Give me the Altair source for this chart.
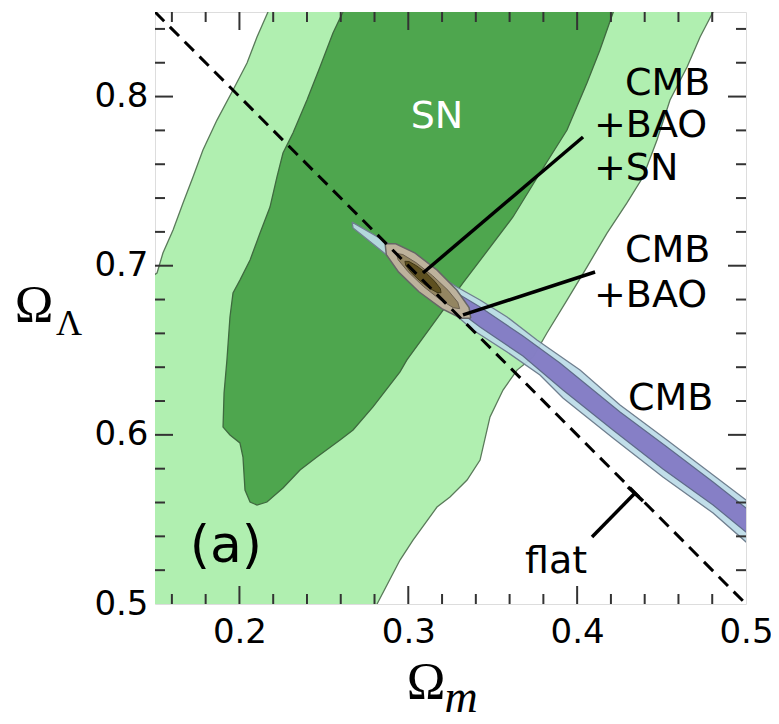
import altair as alt
import pandas as pd

# ---------------- data (Omega_m, Omega_Lambda) ----------------
# SN, outer (95%) contour - light green
sn95_om = [0.2257, 0.2169, 0.2104, 0.2045, 0.1962, 0.1867, 0.1784, 0.1725, 0.1666, 0.1607, 0.1547, 0.1512,
           0.1400, 0.1400, 0.2710, 0.2815, 0.2951, 0.3028, 0.3170, 0.3247, 0.3348, 0.3425, 0.3484, 0.3561,
           0.3644, 0.3739, 0.3821, 0.3940, 0.4058, 0.4177, 0.4295, 0.4390, 0.4473, 0.4550, 0.4651, 0.4728,
           0.4805, 0.4909]
sn95_ol = [0.8700, 0.8500, 0.8352, 0.8198, 0.8039, 0.7861, 0.7684, 0.7524, 0.7371, 0.7211, 0.7075, 0.6957,
           0.6880, 0.4800, 0.4800, 0.5000, 0.5260, 0.5378, 0.5573, 0.5633, 0.5733, 0.5851, 0.6106, 0.6265,
           0.6383, 0.6460, 0.6602, 0.6797, 0.6992, 0.7193, 0.7371, 0.7524, 0.7743, 0.7980, 0.8175, 0.8352,
           0.8500, 0.8700]

# SN, inner (68%) contour - dark green
sn68_om = [0.2640, 0.2613, 0.2554, 0.2477, 0.2400, 0.2317, 0.2258, 0.2222, 0.2181, 0.2122, 0.2063, 0.2003,
           0.1962, 0.1944, 0.1926, 0.1909, 0.1903, 0.1944, 0.2003, 0.2021, 0.2033, 0.2063, 0.2104, 0.2163,
           0.2258, 0.2359, 0.2459, 0.2596, 0.2673, 0.2791, 0.2951, 0.2992, 0.3324, 0.3620, 0.3780, 0.3940,
           0.4058, 0.4135, 0.4212, 0.4290]
sn68_ol = [0.8700, 0.8500, 0.8376, 0.8175, 0.7980, 0.7785, 0.7666, 0.7524, 0.7347, 0.7193, 0.7034, 0.6915,
           0.6839, 0.6697, 0.6443, 0.6247, 0.6046, 0.5999, 0.5952, 0.5869, 0.5674, 0.5603, 0.5585, 0.5603,
           0.5686, 0.5792, 0.5869, 0.5970, 0.6029, 0.6165, 0.6372, 0.6443, 0.6898, 0.7288, 0.7548, 0.7802,
           0.8080, 0.8275, 0.8494, 0.8700]

# CMB outer contour - light blue
cmb95_om = [0.2667, 0.2850, 0.3069, 0.3288, 0.3425, 0.3585, 0.3762, 0.4017, 0.4254, 0.4532, 0.4805, 0.5000,
            0.5142, 0.5142, 0.5000, 0.4805, 0.4508, 0.4212, 0.3916, 0.3780, 0.3585, 0.3383, 0.3247, 0.3069,
            0.2850, 0.2673, 0.2667]
cmb95_ol = [0.7258, 0.7152, 0.7016, 0.6874, 0.6797, 0.6697, 0.6561, 0.6383, 0.6177, 0.5970, 0.5763, 0.5615,
            0.5514, 0.5248, 0.5367, 0.5538, 0.5751, 0.5981, 0.6218, 0.6354, 0.6490, 0.6620, 0.6738, 0.6898,
            0.7081, 0.7223, 0.7258]

# CMB inner contour - purple
cmb68_om = [0.3188, 0.3425, 0.3679, 0.3898, 0.4254, 0.4532, 0.4805, 0.5000, 0.5142,
            0.5142, 0.5000, 0.4805, 0.4508, 0.4212, 0.3916, 0.3679, 0.3425, 0.3188, 0.3188]
cmb68_ol = [0.6898, 0.6756, 0.6584, 0.6425, 0.6135, 0.5928, 0.5721, 0.5568, 0.5467,
            0.5307, 0.5426, 0.5585, 0.5798, 0.6029, 0.6265, 0.6466, 0.6638, 0.6815, 0.6898]

# CMB+BAO outer contour
bao95_om = [0.3370, 0.3312, 0.3198, 0.3063, 0.2943, 0.2870, 0.2863, 0.2926, 0.3041, 0.3171, 0.3287, 0.3360, 0.3370]
bao95_ol = [0.6690, 0.6690, 0.6746, 0.6846, 0.6962, 0.7065, 0.7130, 0.7130, 0.7074, 0.6974, 0.6856, 0.6752, 0.6690]

# CMB+BAO inner contour
bao68_om = [0.3304, 0.3266, 0.3187, 0.3089, 0.2999, 0.2940, 0.2929, 0.2968, 0.3046, 0.3144, 0.3235, 0.3293, 0.3304]
bao68_ol = [0.6746, 0.6752, 0.6801, 0.6878, 0.6964, 0.7035, 0.7073, 0.7066, 0.7018, 0.6941, 0.6855, 0.6784, 0.6746]

# CMB+BAO+SN contour
all_om = [0.3194, 0.3170, 0.3124, 0.3068, 0.3017, 0.2985, 0.2980, 0.3004, 0.3050, 0.3107, 0.3158, 0.3190, 0.3194]
all_ol = [0.6840, 0.6842, 0.6868, 0.6911, 0.6960, 0.7002, 0.7026, 0.7025, 0.6999, 0.6956, 0.6906, 0.6864, 0.6840]

# flat universe line
flat_om = [0.15, 0.50]
flat_ol = [0.85, 0.50]

# leader lines (start, end)
lead_om1 = [0.4035, 0.4106, 0.4088, 0.4301]
lead_ol1 = [0.7761, 0.6963, 0.5396, 0.5692]
lead_om2 = [0.3087, 0.3324, 0.4343, 0.4390]
lead_ol2 = [0.6957, 0.6709, 0.5656, 0.5609]

# annotation texts
lab_text = ["CMB", "+BAO", "+SN", "CMB", "+BAO", "CMB"]
lab_om = [0.4283, 0.4100, 0.4100, 0.4283, 0.4100, 0.4301]
lab_ol = [0.8009, 0.7761, 0.7507, 0.7022, 0.6756, 0.6147]

sn_text = ["SN"]
sn_om = [0.3170]
sn_ol = [0.7814]

flat_text = ["flat"]
flat_lab_om = [0.3691]
flat_lab_ol = [0.5183]

panel_text = ["(a)"]
panel_om = [0.1920]
panel_ol = [0.5248]

# ticks
x_major = [0.2, 0.3, 0.4]
x_minor = [0.16, 0.18, 0.22, 0.24, 0.26, 0.28, 0.32, 0.34, 0.36, 0.38, 0.42, 0.44, 0.46, 0.48]
y_major = [0.6, 0.7, 0.8]
y_minor = [0.52, 0.54, 0.56, 0.58, 0.62, 0.64, 0.66, 0.68, 0.72, 0.74, 0.76, 0.78, 0.82, 0.84]
x_labels = [0.2, 0.3, 0.4, 0.5]
y_labels = [0.5, 0.6, 0.7, 0.8]

# axis titles
title_main = ["Ω"]
title_y_sub = ["Λ"]
title_x_sub = ["m"]

# ---------------- chart ----------------
W, H = 591, 592
xs = alt.Scale(domain=[0.15, 0.5], nice=False, zero=False)
ys = alt.Scale(domain=[0.5, 0.85], nice=False, zero=False)
xaxis = alt.Axis(values=x_labels, format=".1f", ticks=False, tickSize=0, domain=False, grid=False,
                 title=None, labelFont="DejaVu Sans", labelFontSize=34, labelColor="black",
                 labelPadding=11, labelFlush=False, labelOverlap=False)
yaxis = alt.Axis(values=y_labels, format=".1f", ticks=False, tickSize=0, domain=False, grid=False,
                 title=None, labelFont="DejaVu Sans", labelFontSize=34, labelColor="black",
                 labelPadding=7, labelFlush=False, labelOverlap=False)


def X(f="om"):
    return alt.X(f"{f}:Q", scale=xs, axis=xaxis)


def Y(f="ol"):
    return alt.Y(f"{f}:Q", scale=ys, axis=yaxis)


def poly(om, ol, fill, stroke, sw, fop=1.0):
    df = pd.DataFrame({"om": om, "ol": ol, "i": list(range(len(om)))})
    return alt.Chart(df).mark_line(fill=fill, fillOpacity=fop, stroke=stroke, strokeWidth=sw,
                                   clip=True).encode(x=X(), y=Y(), order="i:Q")


layers = [
    poly(sn95_om, sn95_ol, "#b0efb0", "#5a7a5a", 1.3),
    poly(sn68_om, sn68_ol, "#4ea64e", "#3f6a3f", 1.3),
    poly(cmb95_om, cmb95_ol, "#bcdbe7", "#6f7f8f", 1.3, 0.92),
    poly(cmb68_om, cmb68_ol, "#7b6fc0", "#5f6a8a", 1.2, 0.85),
    poly(bao95_om, bao95_ol, "#bdb29c", "#666666", 1.5),
    poly(bao68_om, bao68_ol, "#938561", "#6b6050", 1.0),
    poly(all_om, all_ol, "#5e5020", "#3d3515", 1.0),
]

flat_df = pd.DataFrame({"om": flat_om, "ol": flat_ol})
layers.append(alt.Chart(flat_df).mark_line(color="black", strokeWidth=3, strokeDash=[13, 8], clip=True)
              .encode(x=X(), y=Y()))

lead_df = pd.DataFrame({"om": lead_om1, "ol": lead_ol1, "om2": lead_om2, "ol2": lead_ol2})
layers.append(alt.Chart(lead_df).mark_rule(color="black", strokeWidth=3.5)
              .encode(x=X(), y=Y(), x2="om2:Q", y2="ol2:Q"))

lab_df = pd.DataFrame({"t": lab_text, "om": lab_om, "ol": lab_ol})
layers.append(alt.Chart(lab_df).mark_text(font="DejaVu Sans", fontSize=38, align="left",
                                          baseline="alphabetic", color="black")
              .encode(x=X(), y=Y(), text="t:N"))

sn_df = pd.DataFrame({"t": sn_text, "om": sn_om, "ol": sn_ol})
layers.append(alt.Chart(sn_df).mark_text(font="DejaVu Sans", fontSize=38, align="center",
                                         baseline="alphabetic", color="white")
              .encode(x=X(), y=Y(), text="t:N"))

fl_df = pd.DataFrame({"t": flat_text, "om": flat_lab_om, "ol": flat_lab_ol})
layers.append(alt.Chart(fl_df).mark_text(font="DejaVu Sans", fontSize=38, align="left",
                                         baseline="alphabetic", color="black")
              .encode(x=X(), y=Y(), text="t:N"))

pa_df = pd.DataFrame({"t": panel_text, "om": panel_om, "ol": panel_ol})
layers.append(alt.Chart(pa_df).mark_text(font="DejaVu Sans", fontSize=52, align="center",
                                         baseline="alphabetic", color="black")
              .encode(x=X(), y=Y(), text="t:N"))

# inward ticks on all four sides
tick_col = "#333333"
for vals, ln in [(x_major, 18), (x_minor, 10)]:
    d = pd.DataFrame({"om": vals})
    layers.append(alt.Chart(d).mark_rule(color=tick_col, strokeWidth=2)
                  .encode(x=X(), y=alt.value(H), y2=alt.value(H - ln)))
    layers.append(alt.Chart(d).mark_rule(color=tick_col, strokeWidth=2)
                  .encode(x=X(), y=alt.value(0), y2=alt.value(ln)))
for vals, ln in [(y_major, 18), (y_minor, 10)]:
    d = pd.DataFrame({"ol": vals})
    layers.append(alt.Chart(d).mark_rule(color=tick_col, strokeWidth=2)
                  .encode(y=Y(), x=alt.value(0), x2=alt.value(ln)))
    layers.append(alt.Chart(d).mark_rule(color=tick_col, strokeWidth=2)
                  .encode(y=Y(), x=alt.value(W), x2=alt.value(W - ln)))

# axis titles (Omega with subscripts)
om_df = pd.DataFrame({"t": title_main})
layers.append(alt.Chart(om_df).mark_text(font="Liberation Serif", fontSize=52, align="center",
                                         baseline="alphabetic", color="black")
              .encode(text="t:N", x=alt.value(-121), y=alt.value(310)))
layers.append(alt.Chart(om_df).mark_text(font="Liberation Serif", fontSize=52, align="center",
                                         baseline="alphabetic", color="black")
              .encode(text="t:N", x=alt.value(271), y=alt.value(687)))
yl_df = pd.DataFrame({"t": title_y_sub})
layers.append(alt.Chart(yl_df).mark_text(font="Liberation Serif", fontSize=36, align="center",
                                         baseline="alphabetic", color="black")
              .encode(text="t:N", x=alt.value(-86), y=alt.value(323)))
xm_df = pd.DataFrame({"t": title_x_sub})
layers.append(alt.Chart(xm_df).mark_text(font="Liberation Serif", fontSize=46, fontStyle="italic",
                                         align="center", baseline="alphabetic", color="black")
              .encode(text="t:N", x=alt.value(306), y=alt.value(700)))

chart = alt.layer(*layers).properties(
    width=W, height=H,
    autosize=alt.AutoSizeParams(type="none"),
    padding={"left": 147, "top": 4, "right": 25, "bottom": 112},
).configure_view(stroke="#3a3a3a", strokeWidth=2).configure(background="white")

chart.save("out.html", embed_options={"renderer": "svg", "actions": False})
